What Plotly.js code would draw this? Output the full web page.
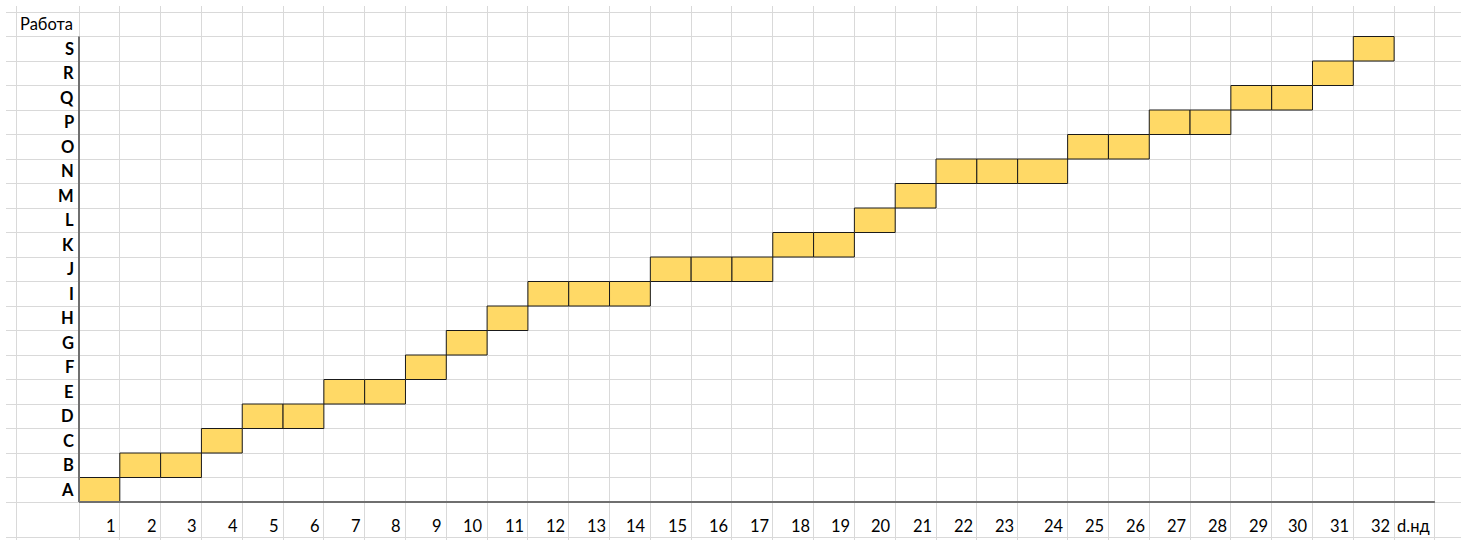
<!DOCTYPE html>
<html>
<head>
<meta charset="utf-8">
<script src="https://cdn.plot.ly/plotly-3.0.1.min.js"></script>
<style>html,body{margin:0;padding:0;background:#fff;}#chart{width:1461px;height:540px;}</style>
</head>
<body>
<div id="chart"></div>
<script>
// ---- data ----
const tasks = ['A','B','C','D','E','F','G','H','I','J','K','L','M','N','O','P','Q','R','S'];
const starts = [0,1,3,4,6,8,9,10,11,14,17,19,20,21,24,26,28,30,31];
const durations = [1,2,1,2,2,1,1,1,3,3,2,1,1,3,2,2,2,1,1];
const weekLabels = ['1','2','3','4','5','6','7','8','9','10','11','12','13','14','15','16','17','18','19','20','21','22','23','24','25','26','27','28','29','30','31','32'];
const yTitle = 'Работа';
const xTitle = 'd.нд';

// ---- layout settings (spreadsheet-like column widths) ----
const UNIT_PX = 40.81;            // width of a normal week column
const WIDE = {24: 50 / 40.81};    // column 24 is wider in the sheet
const LABEL_COL = 63 / 40.81;     // width of the label column left of the axis
function colW(k){ return WIDE[k] || 1; }
function colPos(w){ let s = 0; for (let k = 1; k <= w; k++) s += colW(k); return s; }
const ROW_BOTTOM = 35 / 24.5;     // the tick-label row is taller

// ---- one cell per task-week ----
const bx = [], bbase = [], by = [];
tasks.forEach((t, i) => {
  for (let k = starts[i] + 1; k <= starts[i] + durations[i]; k++) {
    bbase.push(colPos(k - 1));
    bx.push(colW(k));
    by.push(i);
  }
});

const nCols = weekLabels.length + 1;
const xGrid = [-LABEL_COL];
for (let w = 0; w <= nCols + 1; w++) xGrid.push(colPos(w));
const yGrid = [-0.5 - ROW_BOTTOM];
for (let r = 0; r <= tasks.length + 1; r++) yGrid.push(r - 0.5);

const font = {family: 'Lato, "Open Sans", sans-serif', size: 16.5, color: '#000'};
const annotations = [];
tasks.forEach((t, i) => annotations.push({
  x: 0, y: i, xref: 'x', yref: 'y', text: '<b>' + t + '</b>', showarrow: false,
  xanchor: 'right', yanchor: 'middle', xshift: -3, font: font
}));
weekLabels.forEach((lab, j) => annotations.push({
  x: colPos(j + 1), y: -0.5 - 24 / 24.5, xref: 'x', yref: 'y', text: lab, showarrow: false,
  xanchor: 'right', yanchor: 'middle', xshift: -2, font: font
}));
annotations.push({x: colPos(weekLabels.length), y: -0.5 - 24 / 24.5, xref: 'x', yref: 'y', text: xTitle,
  showarrow: false, xanchor: 'left', yanchor: 'middle', xshift: 1, font: font});
annotations.push({x: -LABEL_COL, y: tasks.length, xref: 'x', yref: 'y', text: yTitle,
  showarrow: false, xanchor: 'left', yanchor: 'middle', xshift: 2, font: font});

const axisColor = '#6f6f6f';
const shapes = [
  {type: 'line', xref: 'x', yref: 'y', x0: 0, x1: 0, y0: -0.5, y1: tasks.length - 0.5,
   line: {color: axisColor, width: 2}, layer: 'above'},
  {type: 'line', xref: 'x', yref: 'y', x0: 0, x1: colPos(nCols), y0: -0.5, y1: -0.5,
   line: {color: axisColor, width: 2}, layer: 'above'}
];

const trace = {
  type: 'bar', orientation: 'h', x: bx, base: bbase, y: by, width: 1,
  marker: {color: '#FFD966', line: {color: '#1a1a1a', width: 1}},
  hoverinfo: 'skip'
};

const W = 1461, H = 540, ML = 6, MT = 6;
const xLeft = -(79 - ML) / UNIT_PX;
const xRight = (W - 79) / UNIT_PX;
const yBottom = -0.5 - (H - 502) / 24.5;
const yTop = -0.5 + (502 - MT) / 24.5;

const layout = {
  width: W, height: H,
  margin: {l: ML, r: 0, t: MT, b: 0, pad: 0},
  paper_bgcolor: '#fff', plot_bgcolor: '#fff',
  showlegend: false,
  xaxis: {range: [xLeft, xRight], tickmode: 'array', tickvals: xGrid, showticklabels: false,
    showgrid: true, gridcolor: '#d9d9d9', gridwidth: 1, zeroline: false, showline: false, ticks: '', fixedrange: true},
  yaxis: {range: [yBottom, yTop], tickmode: 'array', tickvals: yGrid, showticklabels: false,
    showgrid: true, gridcolor: '#d9d9d9', gridwidth: 1, zeroline: false, showline: false, ticks: '', fixedrange: true},
  annotations: annotations,
  shapes: shapes
};

Plotly.newPlot('chart', [trace], layout, {displayModeBar: false, staticPlot: true});
</script>
</body>
</html>
